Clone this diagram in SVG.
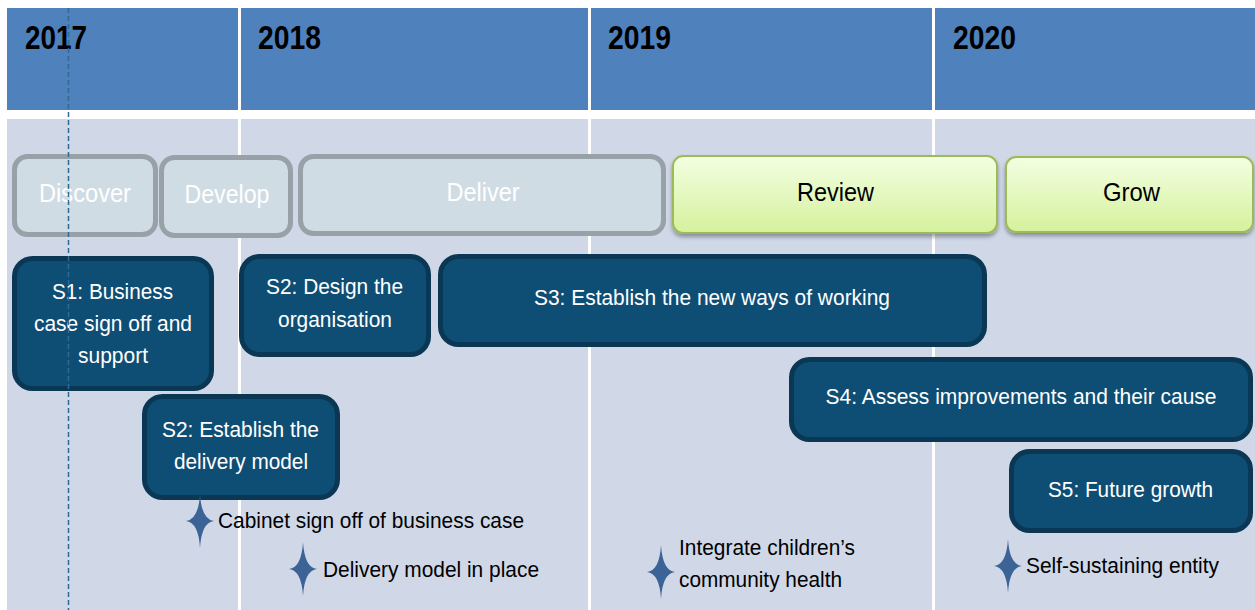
<svg xmlns="http://www.w3.org/2000/svg" width="1255" height="610" viewBox="0 0 1255 610">
<style>
text{font-family:"Liberation Sans",Arial,sans-serif}
.hdr{fill:#4f81bd}
.body{fill:#d0d8e8}
.yr{font-size:33px;font-weight:bold;fill:#000}
.ph{fill:#cfdce4;stroke:#98a0a8;stroke-width:5}
.phg{fill:url(#grn);stroke:#9bbb59;stroke-width:2;filter:url(#sh)}
.pht{font-size:26px;fill:#fff;text-anchor:middle}
.phk{font-size:26px;fill:#000;text-anchor:middle}
.st{fill:#0f4e74;stroke:#0a3754;stroke-width:5}
.stt{font-size:22px;fill:#fff;text-anchor:middle}
.ms{font-size:21.5px;fill:#000}
.star{fill:#3b6395}
</style>
<defs>
<linearGradient id="grn" x1="0" y1="0" x2="0" y2="1">
<stop offset="0" stop-color="#f3ffe2"/>
<stop offset="1" stop-color="#d5f19c"/>
</linearGradient>
<filter id="sh" x="-5%" y="-10%" width="110%" height="130%">
<feGaussianBlur in="SourceAlpha" stdDeviation="2"/>
<feOffset dx="0" dy="3" result="b"/>
<feComponentTransfer><feFuncA type="linear" slope="0.35"/></feComponentTransfer>
<feMerge><feMergeNode/><feMergeNode in="SourceGraphic"/></feMerge>
</filter>
<path id="spark" d="M0,-27 Q1.5,-1.5 14,0 Q1.5,1.5 0,27 Q-1.5,1.5 -14,0 Q-1.5,-1.5 0,-27 Z"/>
</defs>
<rect width="1255" height="610" fill="#fff"/>
<g id="columns">
<rect class="hdr" x="7" y="8" width="231" height="102"/>
<rect class="hdr" x="241" y="8" width="347" height="102"/>
<rect class="hdr" x="591" y="8" width="341" height="102"/>
<rect class="hdr" x="935" y="8" width="320" height="102"/>
<rect class="body" x="7" y="119" width="231" height="491"/>
<rect class="body" x="241" y="119" width="347" height="491"/>
<rect class="body" x="591" y="119" width="341" height="491"/>
<rect class="body" x="935" y="119" width="320" height="491"/>
<text class="yr" x="25" y="49" textLength="62" lengthAdjust="spacingAndGlyphs">2017</text>
<text class="yr" x="258" y="49" textLength="63" lengthAdjust="spacingAndGlyphs">2018</text>
<text class="yr" x="608" y="49" textLength="63" lengthAdjust="spacingAndGlyphs">2019</text>
<text class="yr" x="953" y="49" textLength="63" lengthAdjust="spacingAndGlyphs">2020</text>
</g>
<g id="discover"><rect class="ph" x="14.5" y="156.5" width="141" height="78" rx="13"/><text class="pht" x="85" y="202" textLength="92" lengthAdjust="spacingAndGlyphs">Discover</text></g>
<g id="develop"><rect class="ph" x="161.5" y="157.5" width="129" height="78" rx="13"/><text class="pht" x="227" y="203" textLength="85" lengthAdjust="spacingAndGlyphs">Develop</text></g>
<g id="deliver"><rect class="ph" x="300.5" y="156.5" width="363" height="77" rx="13"/><text class="pht" x="483" y="201" textLength="73" lengthAdjust="spacingAndGlyphs">Deliver</text></g>
<g id="review"><rect class="phg" x="673" y="156" width="324" height="77" rx="10"/><text class="phk" x="835.5" y="201" textLength="77" lengthAdjust="spacingAndGlyphs">Review</text></g>
<g id="grow"><rect class="phg" x="1006" y="157" width="247" height="75" rx="10"/><text class="phk" x="1131.5" y="201" textLength="57" lengthAdjust="spacingAndGlyphs">Grow</text></g>
<g id="s1"><rect class="st" x="14.5" y="258.5" width="197" height="130" rx="18"/>
<text class="stt" x="112.5" y="299" textLength="121" lengthAdjust="spacingAndGlyphs">S1: Business</text>
<text class="stt" x="113" y="331" textLength="158" lengthAdjust="spacingAndGlyphs">case sign off and</text>
<text class="stt" x="113" y="363" textLength="70" lengthAdjust="spacingAndGlyphs">support</text></g>
<g id="s2-design"><rect class="st" x="241.5" y="256.5" width="187" height="98" rx="18"/>
<text class="stt" x="334.5" y="294" textLength="137" lengthAdjust="spacingAndGlyphs">S2: Design the</text>
<text class="stt" x="335" y="327" textLength="114" lengthAdjust="spacingAndGlyphs">organisation</text></g>
<g id="s3"><rect class="st" x="440.5" y="256.5" width="544" height="88" rx="18"/>
<text class="stt" x="712" y="305" textLength="356" lengthAdjust="spacingAndGlyphs">S3: Establish the new ways of working</text></g>
<g id="s4"><rect class="st" x="791.5" y="359.5" width="459" height="80" rx="18"/>
<text class="stt" x="1021" y="404" textLength="391" lengthAdjust="spacingAndGlyphs">S4: Assess improvements and their cause</text></g>
<g id="s2-establish"><rect class="st" x="144.5" y="396.5" width="193" height="101" rx="18"/>
<text class="stt" x="240.5" y="437" textLength="157" lengthAdjust="spacingAndGlyphs">S2: Establish the</text>
<text class="stt" x="241" y="469" textLength="134" lengthAdjust="spacingAndGlyphs">delivery model</text></g>
<g id="s5"><rect class="st" x="1011.5" y="451.5" width="239" height="79" rx="18"/>
<text class="stt" x="1130.5" y="497" textLength="165" lengthAdjust="spacingAndGlyphs">S5: Future growth</text></g>
<g id="m1"><use href="#spark" class="star" x="200" y="521"/><text class="ms" x="218" y="528" textLength="306" lengthAdjust="spacingAndGlyphs">Cabinet sign off of business case</text></g>
<g id="m2"><use href="#spark" class="star" x="303" y="569"/><text class="ms" x="323" y="577" textLength="216" lengthAdjust="spacingAndGlyphs">Delivery model in place</text></g>
<g id="m3"><use href="#spark" class="star" x="661" y="572"/><text class="ms" x="679" y="555" textLength="176" lengthAdjust="spacingAndGlyphs">Integrate children’s</text><text class="ms" x="679" y="587" textLength="163" lengthAdjust="spacingAndGlyphs">community health</text></g>
<g id="m4"><use href="#spark" class="star" x="1008" y="566"/><text class="ms" x="1026" y="573" textLength="193" lengthAdjust="spacingAndGlyphs">Self-sustaining entity</text></g>
<g id="connectors">
<line x1="68.5" y1="8" x2="68.5" y2="610" stroke="#2f6a95" stroke-width="1.5" stroke-dasharray="5,3"/>
</g>
</svg>
